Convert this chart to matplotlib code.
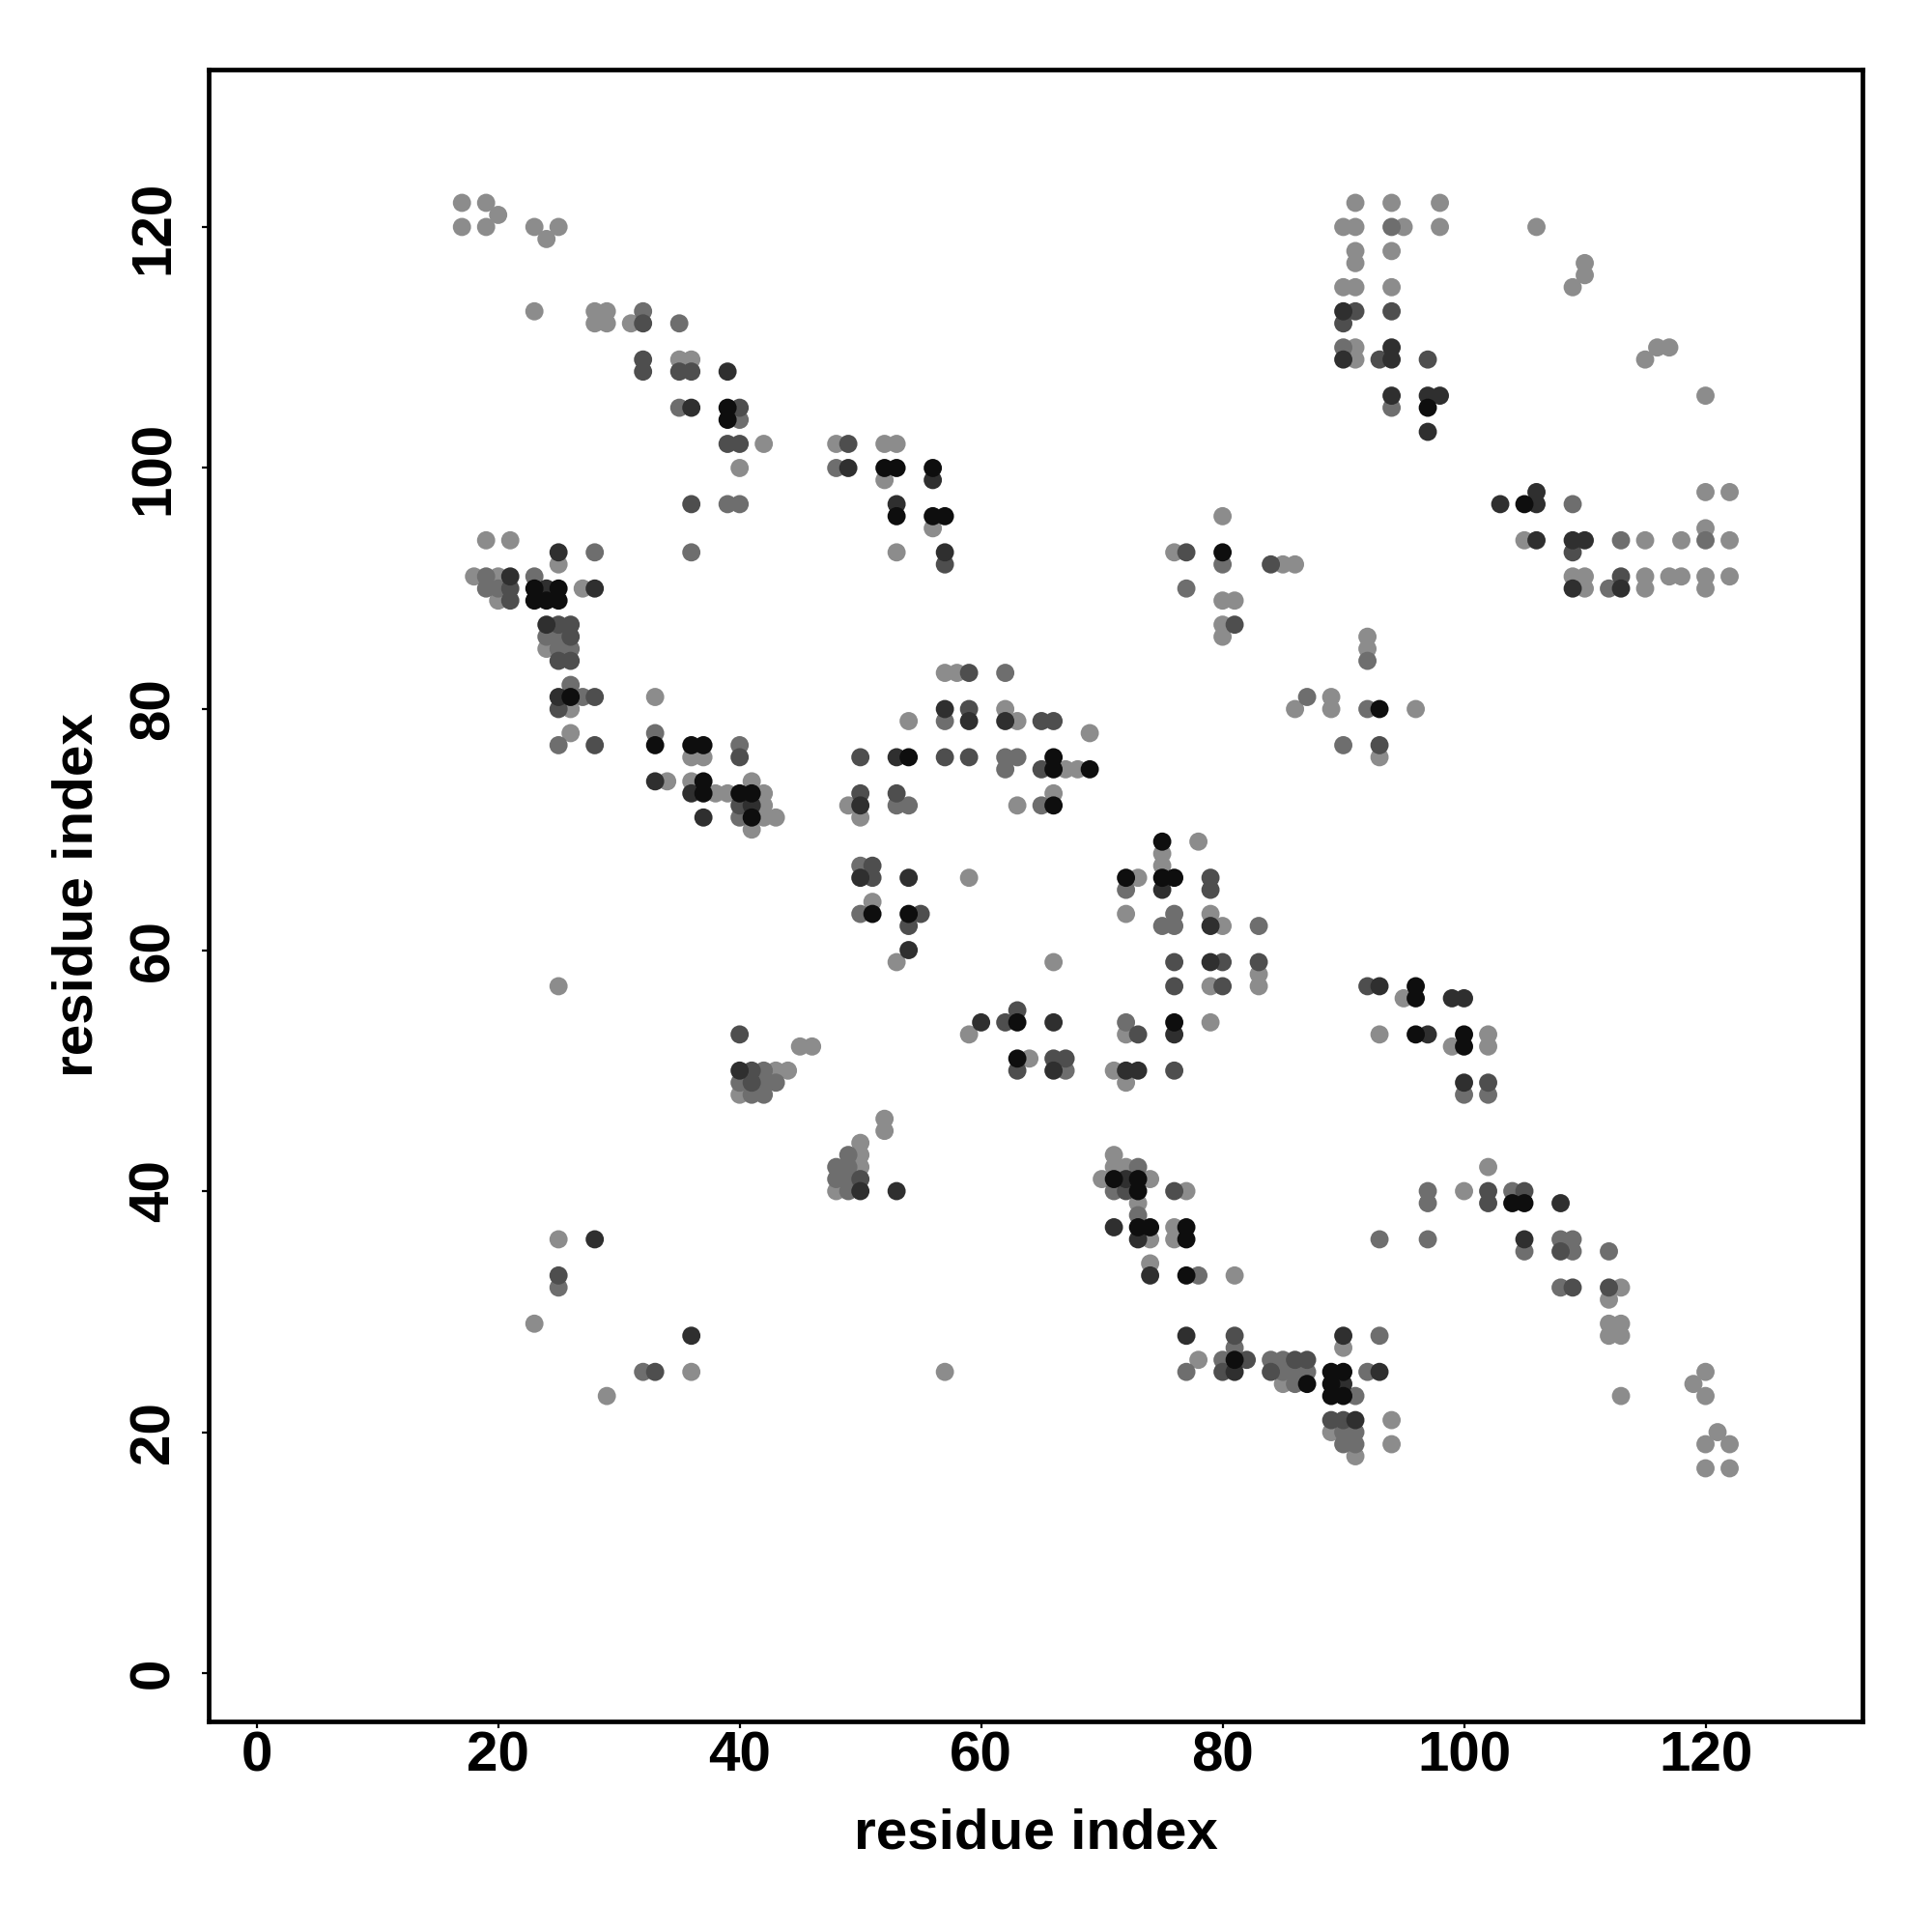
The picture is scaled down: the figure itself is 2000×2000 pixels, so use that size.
import matplotlib
matplotlib.use("Agg")
import matplotlib.pyplot as plt

plt.rcParams['font.family'] = ['Liberation Sans', 'DejaVu Sans']
plt.rcParams['font.weight'] = 'bold'

# contact map points: residue i, residue j, shade class (1 = darkest .. 5 = lightest)
res_x = [17, 19, 20, 17, 19, 23, 25, 24,
         23, 28, 29, 28, 29, 31, 32, 32, 35,
         32, 32, 35, 36, 35, 36, 39,
         35, 36, 39, 40, 39, 40,
         39, 40, 42, 48, 49, 40, 48, 49,
         36, 39, 40,
         19, 21, 25, 28, 36, 25,
         18, 19, 20, 21, 23,
         19, 20, 21, 23, 24, 25, 27, 28,
         20, 21, 23, 24, 25,
         # block 2
         24, 25, 26, 24, 25, 26, 24, 25, 26, 25, 26, 26, 25, 26, 27, 28, 25, 26, 26, 25, 28,
         33, 33, 33, 36, 37, 36, 37, 40, 40,
         33, 34, 36, 37, 36, 37, 38, 39, 40, 41, 41, 42, 37,
         40, 41, 42, 40, 41, 42, 43, 41,
         50, 50, 50, 49, 50,
         50, 51, 50, 51, 51, 50, 51,
         25, 40, 45, 46,
         # block 3
         52, 53, 52, 53, 52, 56, 56, 53, 53, 56, 57, 56, 53, 57, 57,
         76, 77, 80, 80, 84, 85, 86, 77, 80, 80, 81,
         # block 4
         80, 81, 80,
         57, 58, 59, 62,
         57, 57, 59, 59, 54, 62, 62, 63, 65, 66, 69,
         53, 54, 57, 59, 62, 63, 62, 66, 65, 66, 67, 68, 69,
         53, 53, 54, 63, 65, 66, 66,
         75, 78, 75, 75, 75, 76, 75, 72, 73, 72, 79, 79,
         72, 76, 75, 76, 79, 79, 80, 83,
         54, 59, 54, 55, 54, 54, 53, 66,
         76, 79, 80, 83, 83, 83, 76, 79, 80,
         60, 59, 62, 63, 63, 66, 72, 72, 73, 76, 76, 79,
         # block 5
         91, 94, 98, 90, 91, 94, 95, 98, 106,
         91, 91, 94, 110, 110, 109,
         90, 91, 94,
         90, 91, 94, 90,
         90, 91, 94, 90, 91, 93, 94, 97,
         115, 116, 117,
         94, 94, 97, 98, 97, 97, 120,
         103, 105, 106, 106, 109, 120, 122,
         105, 106, 109, 110, 109, 113, 115, 118, 120, 120, 122,
         109, 110, 109, 110, 112, 113, 113, 115, 115, 117, 118, 120, 120, 122,
         # block 6
         92, 92, 92, 86, 87, 89, 89, 92, 93, 96, 90, 93, 93,
         92, 93, 96, 96, 95, 99, 100, 93, 96, 97, 100, 102, 99, 100, 102,
         # block 7
         100, 102, 100, 102, 102,
         97, 97, 100, 102, 102, 104, 105, 104, 105, 108,
         93, 97, 105, 105, 108, 109, 108, 109, 112,
         108, 109, 112, 113, 112, 112, 113, 112, 113,
         90, 90, 93,
         89, 90, 89, 90, 89, 90, 91, 92, 93,
         89, 90, 91, 89, 90, 91, 90, 91, 91, 94, 94,
         113, 120, 119, 120, 121, 120, 122, 120, 122,
         # block 8
         63, 64, 63, 66, 67, 66, 67,
         71, 72, 73, 72, 76,
         52, 52, 53,
         71, 71, 72, 73, 70, 71, 72, 73, 74, 71, 72, 73, 76, 77,
         73, 73,
         71, 73, 74, 73, 74, 76, 76, 77, 77,
         74, 74, 77, 78, 81,
         57,
         77, 81, 81, 78, 77, 80, 81, 82, 80, 81,
         84, 85, 86, 87, 84, 85, 86, 87, 85, 86, 87,
         # block 9
         40, 41, 42, 43, 44, 40, 41, 42, 43, 40, 41, 42,
         50, 49, 50, 48, 49, 50, 48, 49, 50, 48, 49, 50,
         25, 28, 25, 25, 23, 36, 32, 33, 36, 29]

res_y = [122, 122, 121, 120, 120, 120, 120, 119,
         113, 113, 113, 112, 112, 112, 113, 112, 112,
         109, 108, 109, 109, 108, 108, 108,
         105, 105, 105, 105, 104, 104,
         102, 102, 102, 102, 102, 100, 100, 100,
         97, 97, 97,
         94, 94, 93, 93, 93, 92,
         91, 91, 91, 91, 91,
         90, 90, 90, 90, 90, 90, 90, 90,
         89, 89, 89, 89, 89,
         # block 2
         87, 87, 87, 86, 86, 86, 85, 85, 85, 84, 84, 82, 81, 81, 81, 81, 80, 80, 78, 77, 77,
         81, 78, 77, 77, 77, 76, 76, 77, 76,
         74, 74, 74, 74, 73, 73, 73, 73, 73, 74, 73, 73, 71,
         72, 72, 72, 71, 71, 71, 71, 70,
         76, 73, 72, 72, 71,
         67, 67, 66, 66, 64, 63, 63,
         57, 53, 52, 52,
         # block 3
         102, 102, 100, 100, 99, 100, 99, 97, 96, 96, 96, 95, 93, 93, 92,
         93, 93, 93, 92, 92, 92, 92, 90, 96, 89, 89,
         # block 4
         87, 87, 86,
         83, 83, 83, 83,
         80, 79, 80, 79, 79, 80, 79, 79, 79, 79, 78,
         76, 76, 76, 76, 76, 76, 75, 76, 75, 75, 75, 75, 75,
         73, 72, 72, 72, 72, 73, 72,
         69, 69, 68, 67, 66, 66, 65, 66, 66, 65, 66, 65,
         63, 63, 62, 62, 63, 62, 62, 62,
         66, 66, 63, 63, 62, 60, 59, 59,
         59, 59, 59, 59, 58, 57, 57, 57, 57,
         54, 53, 54, 55, 54, 54, 54, 53, 53, 54, 53, 54,
         # block 5
         122, 122, 122, 120, 120, 120, 120, 120, 120,
         118, 117, 118, 117, 116, 115,
         115, 115, 115,
         113, 113, 113, 112,
         110, 110, 110, 109, 109, 109, 109, 109,
         109, 110, 110,
         106, 105, 106, 106, 105, 103, 106,
         97, 97, 97, 98, 97, 98, 98,
         94, 94, 94, 94, 93, 94, 94, 94, 95, 94, 94,
         91, 91, 90, 90, 90, 91, 90, 91, 90, 91, 91, 91, 90, 91,
         # block 6
         86, 85, 84, 80, 81, 81, 80, 80, 80, 80, 77, 77, 76,
         57, 57, 57, 56, 56, 56, 56, 53, 53, 53, 53, 53, 52, 52, 52,
         # block 7
         49, 49, 48, 48, 42,
         40, 39, 40, 40, 39, 40, 40, 39, 39, 39,
         36, 36, 36, 35, 36, 36, 35, 35, 35,
         32, 32, 32, 32, 31, 29, 29, 28, 28,
         28, 27, 28,
         25, 25, 24, 24, 23, 23, 23, 25, 25,
         21, 21, 21, 20, 20, 20, 19, 19, 18, 21, 19,
         23, 25, 24, 23, 20, 19, 19, 17, 17,
         # block 8
         51, 51, 50, 51, 51, 50, 50,
         50, 50, 50, 49, 50,
         46, 45, 40,
         43, 42, 42, 42, 41, 41, 41, 41, 41, 40, 40, 40, 40, 40,
         39, 38,
         37, 37, 37, 36, 36, 37, 36, 37, 36,
         34, 33, 33, 33, 33,
         25,
         28, 28, 27, 26, 25, 26, 26, 26, 25, 25,
         26, 26, 26, 26, 25, 25, 25, 25, 24, 24, 24,
         # block 9
         50, 50, 50, 50, 50, 49, 49, 49, 49, 48, 48, 48,
         44, 43, 43, 42, 42, 42, 41, 41, 41, 40, 40, 40,
         36, 36, 33, 32, 29, 28, 25, 25, 25, 23]

shade = [5, 5, 5, 5, 5, 5, 5, 5,
         5, 5, 5, 5, 5, 5, 4, 3, 4,
         3, 3, 5, 5, 3, 3, 2,
         4, 2, 1, 3, 1, 4,
         3, 3, 5, 5, 3, 5, 4, 2,
         3, 4, 4,
         5, 5, 2, 4, 4, 5,
         5, 4, 5, 2, 4,
         4, 4, 3, 1, 2, 1, 5, 2,
         5, 3, 1, 1, 1,
         # block 2
         2, 3, 3, 4, 4, 3, 5, 4, 4, 3, 3, 4, 2, 1, 4, 3, 3, 5, 5, 4, 3,
         5, 4, 1, 1, 1, 5, 5, 4, 3,
         2, 5, 5, 1, 2, 1, 5, 5, 1, 5, 1, 5, 2,
         3, 2, 5, 4, 1, 5, 5, 5,
         3, 3, 2, 5, 5,
         4, 3, 2, 3, 5, 4, 1,
         5, 3, 5, 5,
         # block 3
         5, 5, 1, 1, 5, 1, 2, 2, 1, 1, 1, 5, 5, 2, 3,
         5, 3, 1, 4, 3, 5, 5, 4, 5, 5, 5,
         # block 4
         5, 3, 5,
         5, 5, 3, 4,
         2, 4, 3, 2, 5, 5, 2, 5, 3, 3, 5,
         2, 1, 3, 3, 4, 4, 4, 1, 3, 1, 5, 5, 1,
         3, 4, 4, 5, 4, 5, 1,
         1, 5, 5, 5, 1, 1, 2, 1, 5, 4, 3, 3,
         5, 4, 4, 4, 5, 2, 5, 4,
         2, 5, 1, 3, 3, 2, 5, 5,
         3, 2, 3, 3, 5, 5, 3, 5, 3,
         2, 5, 3, 3, 1, 2, 4, 5, 3, 1, 2, 5,
         # block 5
         5, 5, 5, 5, 5, 4, 5, 5, 5,
         5, 5, 5, 5, 5, 5,
         5, 5, 5,
         2, 3, 3, 3,
         4, 5, 2, 2, 5, 3, 2, 3,
         5, 5, 5,
         2, 4, 2, 2, 1, 2, 5,
         2, 1, 2, 2, 4, 5, 5,
         5, 2, 2, 2, 3, 4, 5, 5, 5, 4, 5,
         5, 5, 2, 5, 4, 3, 2, 5, 5, 5, 5, 5, 5, 5,
         # block 6
         5, 5, 4, 5, 4, 5, 5, 4, 1, 5, 4, 3, 5,
         3, 2, 1, 1, 5, 2, 2, 5, 1, 2, 1, 5, 5, 1, 5,
         # block 7
         2, 3, 4, 4, 5,
         4, 4, 5, 3, 3, 4, 3, 1, 1, 2,
         4, 4, 2, 4, 4, 4, 3, 4, 4,
         4, 3, 3, 5, 5, 5, 5, 5, 5,
         2, 5, 4,
         1, 1, 1, 2, 1, 1, 4, 4, 2,
         3, 3, 2, 5, 4, 4, 4, 4, 5, 5, 5,
         5, 5, 5, 5, 5, 5, 5, 5, 5,
         # block 8
         1, 5, 3, 3, 3, 2, 4,
         5, 2, 2, 5, 3,
         5, 5, 2,
         5, 5, 5, 4, 5, 1, 2, 1, 5, 4, 3, 1, 3, 5,
         5, 4,
         2, 1, 1, 2, 5, 5, 5, 1, 1,
         5, 2, 1, 4, 5,
         5,
         2, 3, 4, 5, 4, 4, 1, 3, 3, 2,
         4, 4, 3, 3, 3, 4, 4, 4, 5, 4, 1,
         # block 9
         2, 3, 4, 5, 5, 4, 3, 4, 4, 5, 4, 4,
         5, 4, 5, 4, 4, 5, 4, 4, 3, 5, 4, 2,
         5, 2, 3, 4, 5, 2, 4, 3, 5, 5]

grey_levels = {1: '#0e0e0e', 2: '#2f2f2f', 3: '#4e4e4e', 4: '#6e6e6e', 5: '#8c8c8c'}

fig = plt.figure(figsize=(10, 10), dpi=200)
ax = fig.add_axes([0.108, 0.109, 0.856, 0.855])

# lighter points first, darker ones on top
order = sorted(range(len(res_x)), key=lambda k: -shade[k])
xs = [res_x[k] for k in order]
ys = [res_y[k] for k in order]
cs = [grey_levels[shade[k]] for k in order]
ax.scatter(xs, ys, s=46, c=cs, linewidths=0)

ax.set_xlim(-3.98, 133.0)
ax.set_ylim(-4.0, 133.06)
ax.set_xticks(range(0, 121, 20))
ax.set_yticks(range(0, 121, 20))

for sp in ax.spines.values():
    sp.set_linewidth(1.7)

ax.tick_params(axis='both', length=2.6, width=0.8, labelsize=21)
ax.tick_params(axis='x', pad=1)
ax.tick_params(axis='y', pad=8)
for lab in ax.get_yticklabels():
    lab.set_rotation(90)
    lab.set_va('center')
    lab.set_ha('right')
for lab in ax.get_xticklabels() + ax.get_yticklabels():
    lab.set_fontweight('bold')

ax.set_xlabel("residue index", fontsize=21, fontweight='bold', labelpad=9)
ax.set_ylabel("residue index", fontsize=21, fontweight='bold', labelpad=9)

fig.savefig("out.png", dpi=200, facecolor='white')
